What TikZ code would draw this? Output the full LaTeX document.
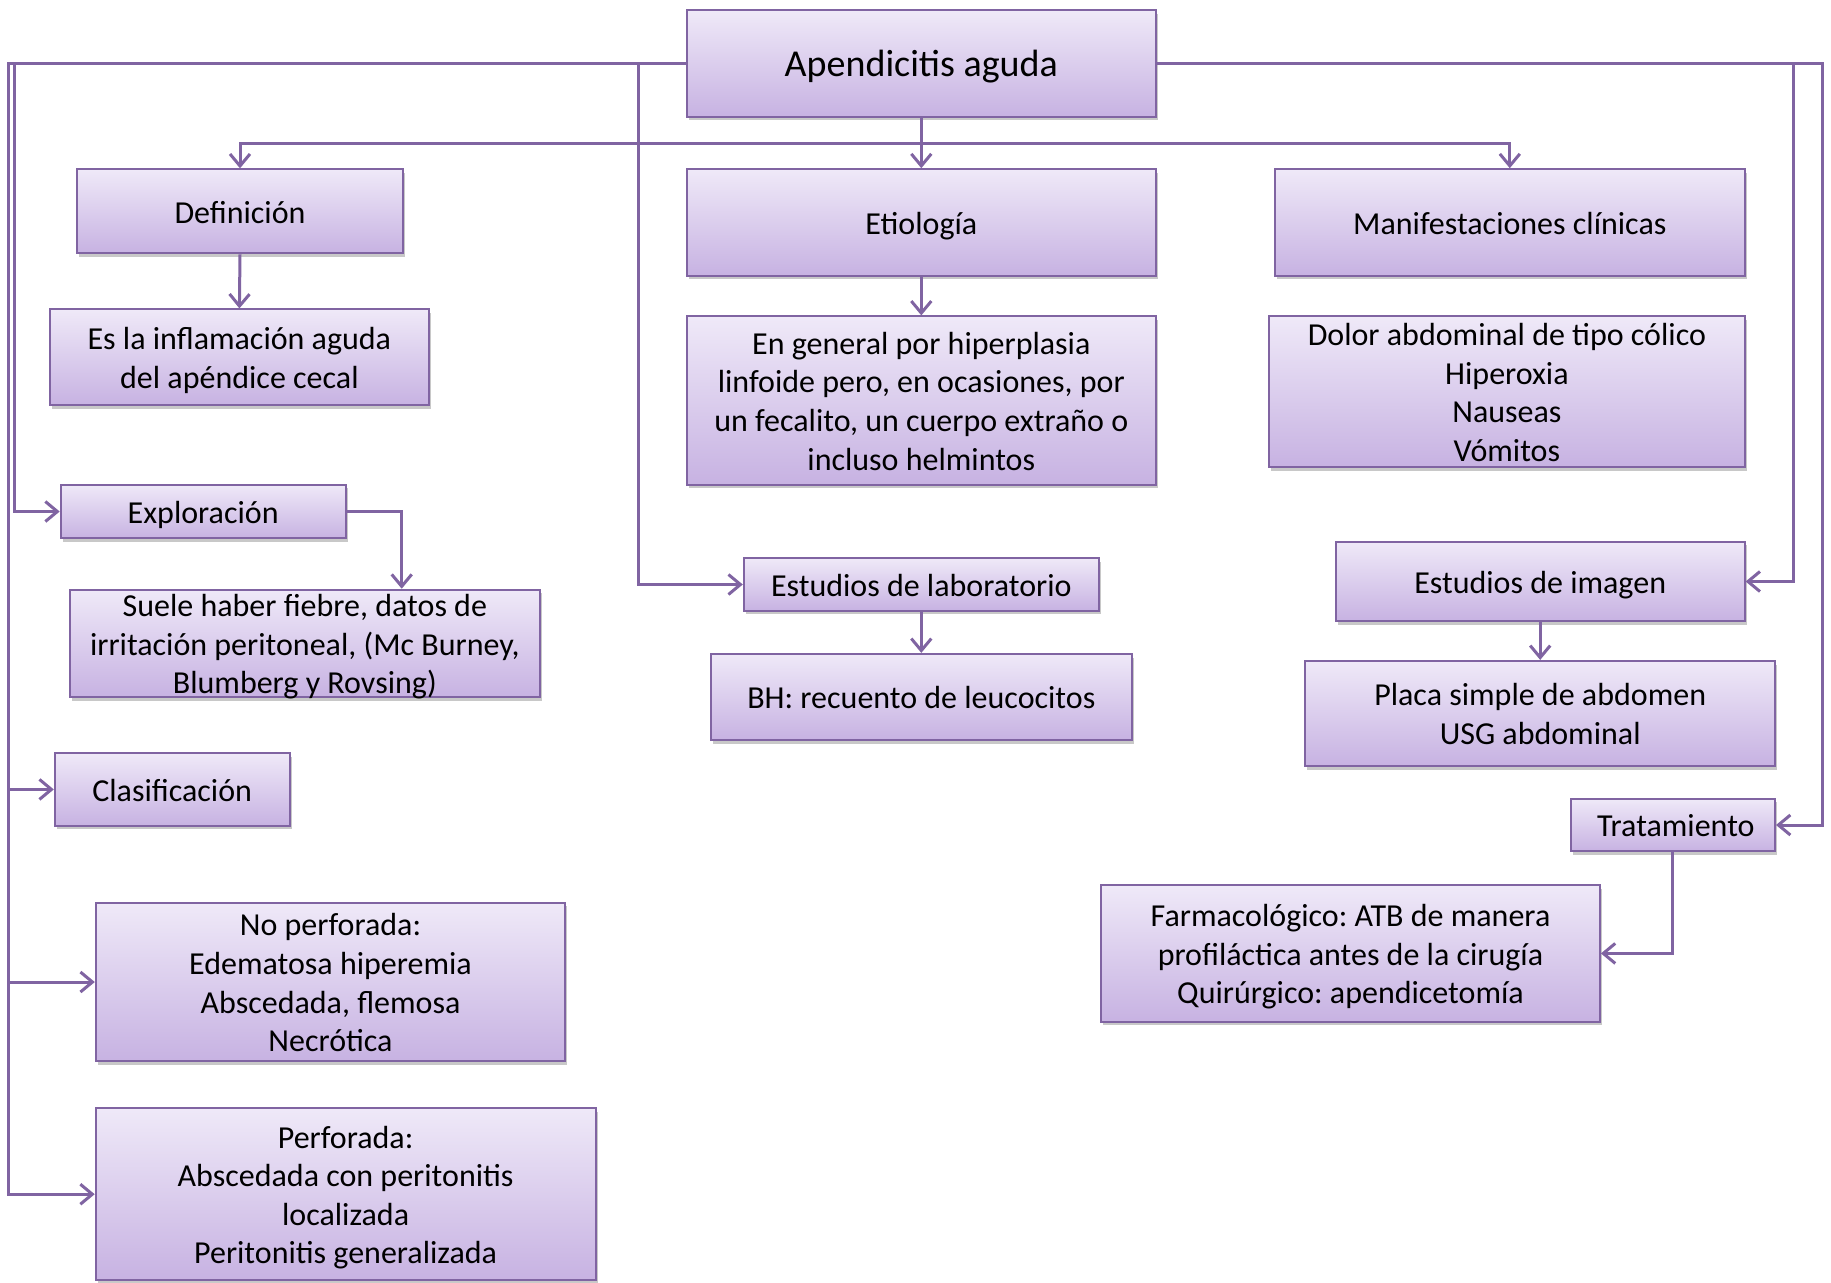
\documentclass[tikz,border=0pt]{standalone}
\usepackage{fontspec}
\setmainfont{Carlito}
\usetikzlibrary{arrows.meta,shadows}
\definecolor{purp}{HTML}{8064A2}
\definecolor{boxtop}{HTML}{EFE9F8}
\definecolor{boxbot}{HTML}{C7B2E2}
\newcommand{\bx}[1]{\raisebox{-2pt}[\dimexpr\height-3pt\relax][\dimexpr\depth-3pt\relax]{\begin{tabular}{@{}c@{}}#1\end{tabular}}}
\begin{document}
\frenchspacing
\begin{tikzpicture}[x=0.5pt,y=-0.5pt,
  box/.style={draw=purp, line width=1pt, top color=boxtop, bottom color=boxbot,
    inner sep=0pt, font=\fontsize{16pt}{19.3pt}\selectfont\frenchspacing,
    drop shadow={shadow xshift=1pt, shadow yshift=-1.8pt, opacity=0.3, fill=black!70}},
  bigbox/.style={box, font=\fontsize{19pt}{23pt}\selectfont},
  arr/.style={draw=purp, line width=1.5pt, -{Straight Barb[length=6pt,width=10pt,line width=1.5pt]}}]
\useasboundingbox (0,0) rectangle (1831,1282);
\fill[white] (0,0) rectangle (1831,1282);

\node[bigbox, minimum width=234.7pt, minimum height=53.2pt] (main) at (921.3,63.6) {\bx{Apendicitis aguda}};
\node[box, minimum width=162.9pt, minimum height=42pt] (def) at (240,211.3) {\bx{Definición}};
\node[box, minimum width=234.7pt, minimum height=53.2pt] (etio) at (921.3,222.4) {\bx{Etiología}};
\node[box, minimum width=234.7pt, minimum height=53.2pt] (man) at (1509.8,222.4) {\bx{Manifestaciones clínicas}};
\node[box, minimum width=189.2pt, minimum height=47.9pt] (inflam) at (239.4,357.3) {\bx{Es la inflamación aguda\\del apéndice cecal}};
\node[box, minimum width=234.7pt, minimum height=84.1pt] (etiotext) at (921.3,400.5) {\bx{En general por hiperplasia\\linfoide pero, en ocasiones, por\\un fecalito, un cuerpo extraño o\\incluso helmintos}};
\node[box, minimum width=237.7pt, minimum height=75.4pt] (mantext) at (1506.9,391.8) {\bx{Dolor abdominal de tipo cólico\\Hiperoxia\\Nauseas\\Vómitos}};
\node[box, minimum width=142.5pt, minimum height=26.9pt] (explor) at (203.2,511.5) {\bx{Exploración}};
\node[box, minimum width=234.8pt, minimum height=53.7pt] (suele) at (304.8,643.4) {\bx{Suele haber fiebre, datos de\\irritación peritoneal, (Mc Burney,\\Blumberg y Rovsing)}};
\node[box, minimum width=177.5pt, minimum height=26.3pt] (estlab) at (921.3,584.5) {\bx{Estudios de laboratorio}};
\node[box, minimum width=210.2pt, minimum height=43.2pt] (bh) at (921.3,697.1) {\bx{BH: recuento de leucocitos}};
\node[box, minimum width=204.4pt, minimum height=39.7pt] (estimg) at (1540.2,581.5) {\bx{Estudios de imagen}};
\node[box, minimum width=234.8pt, minimum height=52.6pt] (placa) at (1540.2,713.5) {\bx{Placa simple de abdomen\\USG abdominal}};
\node[box, minimum width=102.2pt, minimum height=26.3pt] (trat) at (1672.8,825) {\bx{\hspace{3pt}Tratamiento}};
\node[box, minimum width=249.4pt, minimum height=68.3pt] (farm) at (1350.5,953.4) {\bx{Farmacológico: ATB de manera\\profiláctica antes de la cirugía\\Quirúrgico: apendicetomía}};
\node[box, minimum width=117.4pt, minimum height=36.2pt] (clasif) at (172.2,789.4) {\bx{Clasificación}};
\node[box, minimum width=234.7pt, minimum height=79.4pt] (noperf) at (330.5,982) {\bx{No perforada:\\Edematosa hiperemia\\Abscedada, flemosa\\Necrótica}};
\node[box, minimum width=249.9pt, minimum height=86pt] (perf) at (345.6,1194.2) {\bx{Perforada:\\Abscedada con peritonitis\\localizada\\Peritonitis generalizada}};

\coordinate (Lin) at (14,0);
\coordinate (Lout) at (8,0);
\coordinate (Llab) at (638.7,0);
\coordinate (Rimg) at (1793,0);
\coordinate (Rtrat) at (1822,0);
\coordinate (Bus) at (0,143.6);
\coordinate (Expx) at (401.7,0);

\draw[arr] (main.west) -| (Lin |- explor.west) -- (explor.west);
\draw[arr] (main.west) -| (Lout |- perf.west) -- (perf.west);
\draw[arr] (Lout |- clasif.west) -- (clasif.west);
\draw[arr] (Lout |- noperf.west) -- (noperf.west);
\draw[arr] (main.west) -| (Llab |- estlab.west) -- (estlab.west);
\draw[arr] (main.east) -| (Rimg |- estimg.east) -- (estimg.east);
\draw[arr] (main.east) -| (Rtrat |- trat.east) -- (trat.east);
\draw[arr] (main.south) |- (Bus -| def.north) -- (def.north);
\draw[arr] (main.south) |- (Bus -| man.north) -- (man.north);
\draw[arr] (main.south) -- (etio.north);
\draw[arr] (def.south) -- (inflam.north);
\draw[arr] (etio.south) -- (etiotext.north);
\draw[arr] (explor.east) -| (suele.north -| Expx);
\draw[arr] (estlab.south) -- (bh.north);
\draw[arr] (estimg.south) -- (placa.north);
\draw[arr] (trat.south) |- (farm.east);
\end{tikzpicture}
\end{document}
